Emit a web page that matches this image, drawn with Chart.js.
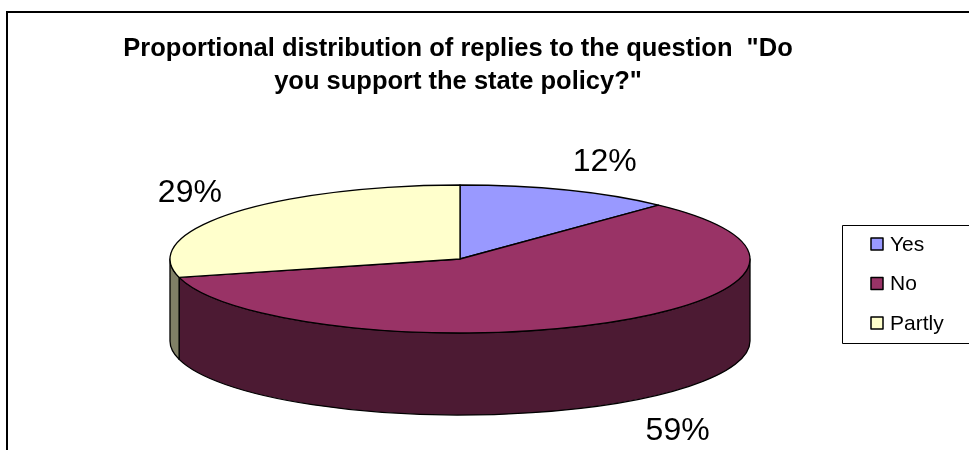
<!DOCTYPE html>
<html>
<head>
<meta charset="utf-8">
<script src="https://cdn.jsdelivr.net/npm/chart.js@4.4.1/dist/chart.umd.min.js"></script>
<style>
  html, body { margin: 0; padding: 0; background: #fff; }
  #wrap { width: 969px; height: 450px; }
</style>
</head>
<body>
<div id="wrap"><canvas id="c" width="969" height="450"></canvas></div>
<script>
const categories = ['Yes', 'No', 'Partly'];
const values = [12, 59, 29];
const valueLabels = ['12%', '59%', '29%'];
const titleLines = ['Proportional distribution of replies to the question  "Do', 'you support the state policy?"'];

const sliceColors = ['#9999FF', '#993366', '#FFFFCC'];
const sideColors = ['#4C4C80', '#4C1A33', '#808066'];

// layout constants for the 3D look
const RX = 290, RY = 74, DEPTH = 82;
const labelOffsets = [[38, -28], [70, 26], [-41, -20]];

const pie3d = {
  id: 'pie3d',
  beforeDraw(chart) {
    const ctx = chart.ctx;
    ctx.save();
    ctx.fillStyle = '#ffffff';
    ctx.fillRect(0, 0, chart.width, chart.height);
    // outer chart frame
    ctx.strokeStyle = '#000';
    ctx.lineWidth = 2;
    ctx.strokeRect(7, 12, chart.width + 20, chart.height + 20);
    // title
    ctx.fillStyle = '#000';
    ctx.font = 'bold 25.5px "Liberation Sans", Arial, sans-serif';
    ctx.textAlign = 'center';
    ctx.textBaseline = 'alphabetic';
    ctx.fillText(titleLines[0], 458, 56);
    ctx.fillText(titleLines[1], 458, 89);
    ctx.restore();
  },
  beforeDatasetsDraw(chart) {
    const ctx = chart.ctx;
    const meta = chart.getDatasetMeta(0);
    const arcs = meta.data;
    const cx = arcs[0].x, cy = arcs[0].y;
    const TWO = Math.PI * 2;
    ctx.save();
    ctx.lineJoin = 'round';
    ctx.strokeStyle = '#000';
    ctx.lineWidth = 1.3;

    // side walls (front half only)
    arcs.forEach((arc, i) => {
      let s = arc.startAngle, e = arc.endAngle;
      let span = e - s;
      s = ((s % TWO) + TWO) % TWO;
      e = s + span;
      [[0, Math.PI], [TWO, TWO + Math.PI]].forEach(([lo, hi]) => {
        const a1 = Math.max(s, lo), a2 = Math.min(e, hi);
        if (a2 <= a1) return;
        ctx.beginPath();
        ctx.ellipse(cx, cy, RX, RY, 0, a1, a2, false);
        ctx.lineTo(cx + RX * Math.cos(a2), cy + DEPTH + RY * Math.sin(a2));
        ctx.ellipse(cx, cy + DEPTH, RX, RY, 0, a2, a1, true);
        ctx.closePath();
        ctx.fillStyle = sideColors[i];
        ctx.fill();
        ctx.stroke();
      });
    });

    // top faces
    arcs.forEach((arc, i) => {
      ctx.beginPath();
      ctx.moveTo(cx, cy);
      ctx.ellipse(cx, cy, RX, RY, 0, arc.startAngle, arc.endAngle, false);
      ctx.closePath();
      ctx.fillStyle = sliceColors[i];
      ctx.fill();
      ctx.stroke();
    });

    // value labels
    ctx.fillStyle = '#000';
    ctx.font = '32px "Liberation Sans", Arial, sans-serif';
    ctx.textAlign = 'center';
    ctx.textBaseline = 'middle';
    arcs.forEach((arc, i) => {
      const mid = (arc.startAngle + arc.endAngle) / 2;
      const front = Math.sin(mid) > 0 ? DEPTH : 0;
      const x = cx + RX * Math.cos(mid) + labelOffsets[i][0];
      const y = cy + RY * Math.sin(mid) + front + labelOffsets[i][1];
      ctx.fillText(valueLabels[i], x, y);
    });

    // legend
    const lx = 842, ly = 225, lh = 118;
    ctx.lineWidth = 1;
    ctx.strokeStyle = '#000';
    ctx.strokeRect(lx + 0.5, ly + 0.5, 200, lh);
    ctx.font = '21px "Liberation Sans", Arial, sans-serif';
    ctx.textAlign = 'left';
    categories.forEach((c, i) => {
      const yc = ly + 19 + i * 39.5;
      ctx.fillStyle = sliceColors[i];
      ctx.fillRect(871, yc - 6, 12, 12);
      ctx.lineWidth = 1.5;
      ctx.strokeRect(871, yc - 6, 12, 12);
      ctx.fillStyle = '#000';
      ctx.fillText(c, 890, yc + 1);
    });
    ctx.restore();
    return false;
  }
};

new Chart(document.getElementById('c'), {
  type: 'pie',
  data: {
    labels: categories,
    datasets: [{ data: values, backgroundColor: sliceColors, borderColor: '#000', borderWidth: 1 }]
  },
  options: {
    responsive: false,
    animation: false,
    events: [],
    layout: { padding: { left: 0, right: 49, top: 68, bottom: 0 } },
    plugins: { legend: { display: false }, title: { display: false }, tooltip: { enabled: false } }
  },
  plugins: [pie3d]
});
</script>
</body>
</html>
